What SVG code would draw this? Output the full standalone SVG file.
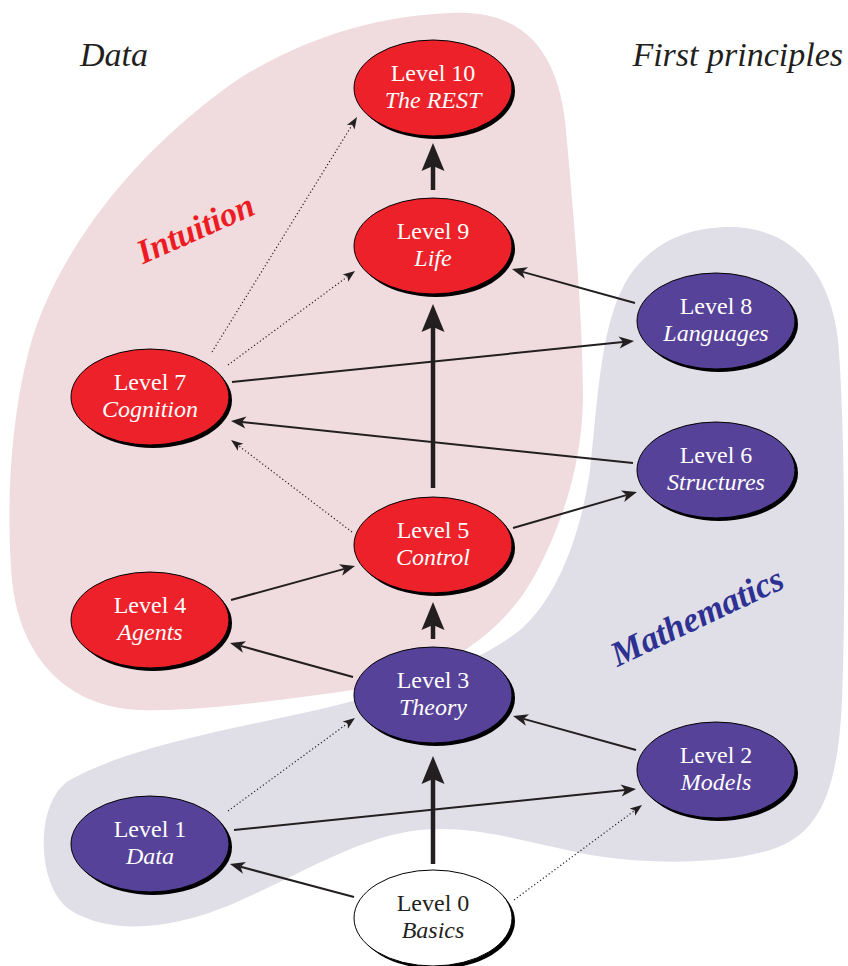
<svg xmlns="http://www.w3.org/2000/svg" width="848" height="966" viewBox="0 0 848 966">
<style>
.blob-pink{fill:#f0dcdf}
.blob-grey{fill:#e0dfe8}
.title{font-family:"Liberation Serif",serif;font-style:italic;font-size:34px;fill:#231f20}
.tag{font-family:"Liberation Serif",serif;font-style:italic;font-weight:bold}
.shadow{fill:#000}
.body{stroke:#000;stroke-width:1}
.red .body{fill:#ed2129}
.blue .body{fill:#574299}
.white .body{fill:#fff}
.node text{font-family:"Liberation Serif",serif;font-size:24px;text-anchor:middle;fill:#fff}
.white text{fill:#231f20}
.node .t2{font-style:italic}
.thick{stroke:#231f20;stroke-width:4.5;fill:none;marker-end:url(#bigHead)}
.thin{stroke:#231f20;stroke-width:2;fill:none;marker-end:url(#thinHead)}
.dot{stroke:#231f20;stroke-width:1.2;stroke-dasharray:1.2 2.4;fill:none;marker-end:url(#dotHead)}
</style>
<defs>
<marker id="bigHead" markerUnits="userSpaceOnUse" orient="auto" markerWidth="30" markerHeight="24" refX="5" refY="11.5" overflow="visible"><path d="M0,0 L28,11.5 L0,23 L5,11.5 Z" fill="#231f20"/></marker>
<marker id="thinHead" markerUnits="userSpaceOnUse" orient="auto" markerWidth="16" markerHeight="13" refX="4" refY="6" overflow="visible"><path d="M0,0 L15,6 L0,12 L4,6 Z" fill="#231f20"/></marker>
<marker id="dotHead" markerUnits="userSpaceOnUse" orient="auto" markerWidth="13" markerHeight="10" refX="3" refY="4.5" overflow="visible"><path d="M0,0 L12,4.5 L0,9 L3,4.5 Z" fill="#231f20"/></marker>
</defs>
<rect width="848" height="966" fill="#fff"/>
<g id="regions">
<path id="intuition-region" class="blob-pink" d="M450,13 C530,8 560,60 566,130 C574,220 583,320 583,400 C582,450 570,510 535,575 C500,640 430,680 353,690 C280,700 200,712 140,710 C70,708 20,660 12,580 C5,500 12,400 35,330 C70,230 150,140 240,78 C310,35 380,16 450,13 Z"/>
<path id="mathematics-region" class="blob-grey" d="M726,227 C790,225 830,270 838,340 C845,420 846,600 842,700 C838,790 820,835 770,850 C720,865 640,865 580,853 C520,840 470,825 420,830 C360,836 300,875 230,905 C170,930 110,935 70,910 C35,885 35,800 70,780 C120,752 200,735 280,718 C380,697 470,670 520,630 C555,600 580,540 590,470 C598,400 600,320 630,275 C655,240 690,228 726,227 Z"/>
</g>
<g id="labels">
<text class="title" x="80" y="66">Data</text>
<text class="title" x="843" y="66" text-anchor="end">First principles</text>
<text class="tag" x="200" y="239" font-size="34" fill="#ed1c24" text-anchor="middle" transform="rotate(-24 200 239)">Intuition</text>
<text class="tag" x="702" y="627" font-size="35" fill="#2e3192" text-anchor="middle" transform="rotate(-25.3 702 627)">Mathematics</text>
</g>
<g id="connectors">
<line class="thick" x1="433" y1="190" x2="433" y2="166"/>
<line class="thick" x1="433" y1="488" x2="433" y2="327"/>
<line class="thick" x1="433" y1="639" x2="433" y2="625"/>
<line class="thick" x1="433" y1="864" x2="433" y2="779"/>
<line class="thin" x1="635" y1="303" x2="522.6" y2="271.9"/>
<line class="thin" x1="232" y1="382" x2="623.1" y2="342.1"/>
<line class="thin" x1="633" y1="463" x2="241.9" y2="422.1"/>
<line class="thin" x1="513" y1="528" x2="626.4" y2="495.1"/>
<line class="thin" x1="231" y1="600" x2="344.4" y2="568.9"/>
<line class="thin" x1="353" y1="677" x2="240.6" y2="645.9"/>
<line class="thin" x1="636" y1="750" x2="523.6" y2="718.9"/>
<line class="thin" x1="234" y1="830" x2="625.1" y2="790.1"/>
<line class="thin" x1="354" y1="897" x2="240.6" y2="866.8"/>
<line class="dot" x1="212" y1="352" x2="352.3" y2="124.7"/>
<line class="dot" x1="228" y1="365" x2="347.8" y2="276.4"/>
<line class="dot" x1="352" y1="532" x2="238.2" y2="445.4"/>
<line class="dot" x1="228" y1="811" x2="347.7" y2="723.3"/>
<line class="dot" x1="514" y1="900" x2="634.8" y2="810.4"/>
</g>
<g id="level10" class="node red"><ellipse class="shadow" cx="436" cy="91" rx="79" ry="48"/><ellipse class="body" cx="433" cy="88" rx="79" ry="48"/><text x="433" y="81">Level 10</text><text class="t2" x="433" y="108">The REST</text></g>
<g id="level9" class="node red"><ellipse class="shadow" cx="436" cy="249" rx="79" ry="48"/><ellipse class="body" cx="433" cy="246" rx="79" ry="48"/><text x="433" y="239">Level 9</text><text class="t2" x="433" y="266">Life</text></g>
<g id="level8" class="node blue"><ellipse class="shadow" cx="719" cy="324" rx="79" ry="48"/><ellipse class="body" cx="716" cy="321" rx="79" ry="48"/><text x="716" y="314">Level 8</text><text class="t2" x="716" y="341">Languages</text></g>
<g id="level7" class="node red"><ellipse class="shadow" cx="153" cy="400" rx="79" ry="48"/><ellipse class="body" cx="150" cy="397" rx="79" ry="48"/><text x="150" y="390">Level 7</text><text class="t2" x="150" y="417">Cognition</text></g>
<g id="level6" class="node blue"><ellipse class="shadow" cx="719" cy="473" rx="79" ry="48"/><ellipse class="body" cx="716" cy="470" rx="79" ry="48"/><text x="716" y="463">Level 6</text><text class="t2" x="716" y="490">Structures</text></g>
<g id="level5" class="node red"><ellipse class="shadow" cx="436" cy="548" rx="79" ry="48"/><ellipse class="body" cx="433" cy="545" rx="79" ry="48"/><text x="433" y="538">Level 5</text><text class="t2" x="433" y="565">Control</text></g>
<g id="level4" class="node red"><ellipse class="shadow" cx="153" cy="623" rx="79" ry="48"/><ellipse class="body" cx="150" cy="620" rx="79" ry="48"/><text x="150" y="613">Level 4</text><text class="t2" x="150" y="640">Agents</text></g>
<g id="level3" class="node blue"><ellipse class="shadow" cx="436" cy="698" rx="79" ry="48"/><ellipse class="body" cx="433" cy="695" rx="79" ry="48"/><text x="433" y="688">Level 3</text><text class="t2" x="433" y="715">Theory</text></g>
<g id="level2" class="node blue"><ellipse class="shadow" cx="719" cy="773" rx="79" ry="48"/><ellipse class="body" cx="716" cy="770" rx="79" ry="48"/><text x="716" y="763">Level 2</text><text class="t2" x="716" y="790">Models</text></g>
<g id="level1" class="node blue"><ellipse class="shadow" cx="153" cy="847" rx="79" ry="48"/><ellipse class="body" cx="150" cy="844" rx="79" ry="48"/><text x="150" y="837">Level 1</text><text class="t2" x="150" y="864">Data</text></g>
<g id="level0" class="node white"><ellipse class="shadow" cx="436" cy="921" rx="79" ry="48"/><ellipse class="body" cx="433" cy="918" rx="79" ry="48"/><text x="433" y="911">Level 0</text><text class="t2" x="433" y="938">Basics</text></g>
</svg>
